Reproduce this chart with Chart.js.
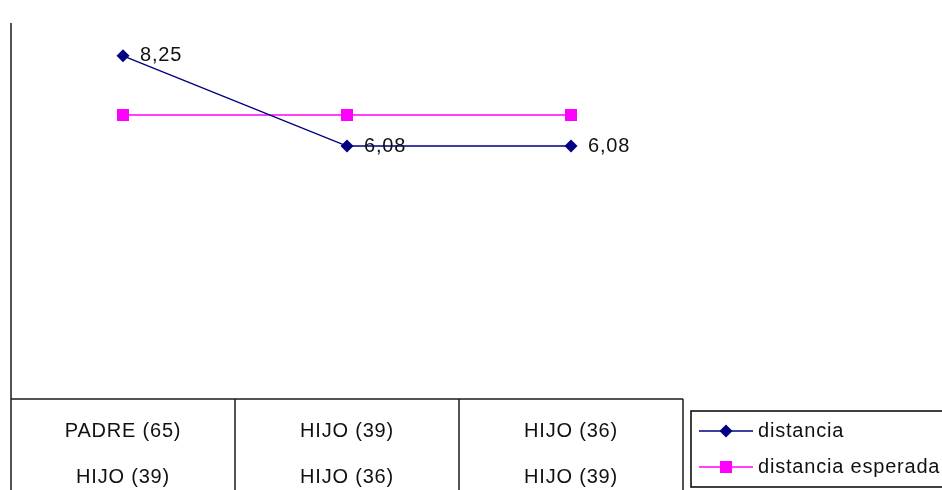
<!DOCTYPE html>
<html>
<head>
<meta charset="utf-8">
<script src="https://cdn.jsdelivr.net/npm/chart.js@4/dist/chart.umd.min.js"></script>
<style>
  html, body { margin: 0; padding: 0; background: #fff; }
  #wrap { width: 942px; height: 490px; position: relative; }
</style>
</head>
<body>
<div id="wrap"><canvas id="c" width="942" height="490"></canvas></div>
<script>
// ---- data ----
const catLine1 = ['PADRE (65)', 'HIJO (39)', 'HIJO (36)'];
const catLine2 = ['HIJO (39)', 'HIJO (36)', 'HIJO (39)'];
const distancia = [8.25, 6.08, 6.08];
const distanciaEsperada = [6.83, 6.83, 6.83];
const seriesNames = ['distancia', 'distancia esperada'];
const yMin = 0;
const yMax = 9.04;

const FONT = '20px "Liberation Sans", Arial, sans-serif';

const tablePlugin = {
  id: 'tablePlugin',
  afterDraw(chart) {
    const ctx = chart.ctx;
    const ca = chart.chartArea;
    const xs = chart.scales.x;
    const n = chart.data.labels.length;
    const step = (ca.right - ca.left) / n;
    ctx.save();
    ctx.strokeStyle = '#1a1a1a';
    ctx.lineWidth = 1.5;
    // axis line
    ctx.beginPath();
    ctx.moveTo(ca.left, ca.top);
    ctx.lineTo(ca.left, chart.height);
    ctx.stroke();
    // table top
    ctx.beginPath();
    ctx.moveTo(ca.left, ca.bottom);
    ctx.lineTo(ca.right, ca.bottom);
    ctx.stroke();
    // dividers and right edge
    for (let i = 1; i <= n; i++) {
      const x = ca.left + step * i;
      ctx.beginPath();
      ctx.moveTo(x, ca.bottom);
      ctx.lineTo(x, chart.height);
      ctx.stroke();
    }
    // cell labels
    ctx.fillStyle = '#111';
    ctx.font = FONT;
    if ('letterSpacing' in ctx) ctx.letterSpacing = '0.8px';
    ctx.textAlign = 'center';
    ctx.textBaseline = 'middle';
    for (let i = 0; i < n; i++) {
      const cx = xs.getPixelForValue(i);
      ctx.fillText(catLine1[i], cx, ca.bottom + 32);
      ctx.fillText(catLine2[i], cx, ca.bottom + 78);
    }
    // data labels for distancia
    const meta = chart.getDatasetMeta(0);
    ctx.textAlign = 'left';
    meta.data.forEach((pt, i) => {
      const v = chart.data.datasets[0].data[i];
      ctx.fillText(v.toFixed(2).replace('.', ','), pt.x + 17, pt.y);
    });
    // legend
    const lx = 691, ly = 411, lw = 270, lh = 76;
    ctx.lineWidth = 1.5;
    ctx.strokeStyle = '#000';
    ctx.strokeRect(lx, ly, lw, lh);
    chart.data.datasets.forEach((ds, i) => {
      const y = ly + 20 + i * 36;
      ctx.strokeStyle = ds.borderColor;
      ctx.lineWidth = ds.borderWidth;
      ctx.beginPath();
      ctx.moveTo(lx + 8, y);
      ctx.lineTo(lx + 62, y);
      ctx.stroke();
      ctx.fillStyle = ds.pointBackgroundColor;
      const mx = lx + 35;
      if (ds.pointStyle === 'rectRot') {
        const r = ds.pointRadius;
        ctx.beginPath();
        ctx.moveTo(mx, y - r); ctx.lineTo(mx + r, y); ctx.lineTo(mx, y + r); ctx.lineTo(mx - r, y);
        ctx.closePath();
        ctx.fill();
      } else {
        const s = ds.pointRadius * Math.SQRT1_2;
        ctx.fillRect(mx - s, y - s, 2 * s, 2 * s);
      }
      ctx.fillStyle = '#111';
      ctx.textAlign = 'left';
      ctx.fillText(ds.label, lx + 67, y);
    });
    ctx.restore();
  }
};

new Chart(document.getElementById('c'), {
  type: 'line',
  data: {
    labels: catLine1.map((a, i) => [a, catLine2[i]]),
    datasets: [
      {
        label: seriesNames[0],
        data: distancia,
        borderColor: '#000080',
        backgroundColor: '#000080',
        pointBackgroundColor: '#000080',
        pointBorderColor: '#000080',
        borderWidth: 1.5,
        pointStyle: 'rectRot',
        pointRadius: 6.5,
        pointBorderWidth: 0,
        tension: 0
      },
      {
        label: seriesNames[1],
        data: distanciaEsperada,
        borderColor: '#FF00FF',
        backgroundColor: '#FF00FF',
        pointBackgroundColor: '#FF00FF',
        pointBorderColor: '#FF00FF',
        borderWidth: 1.5,
        pointStyle: 'rect',
        pointRadius: 8.5,
        pointBorderWidth: 0,
        tension: 0
      }
    ]
  },
  options: {
    responsive: false,
    animation: false,
    devicePixelRatio: 1,
    layout: { padding: { left: 11, right: 259, top: 23, bottom: 91 } },
    plugins: { legend: { display: false }, tooltip: { enabled: false } },
    scales: {
      x: { type: 'category', offset: true, display: false },
      y: { min: yMin, max: yMax, display: false }
    }
  },
  plugins: [tablePlugin]
});
</script>
</body>
</html>
